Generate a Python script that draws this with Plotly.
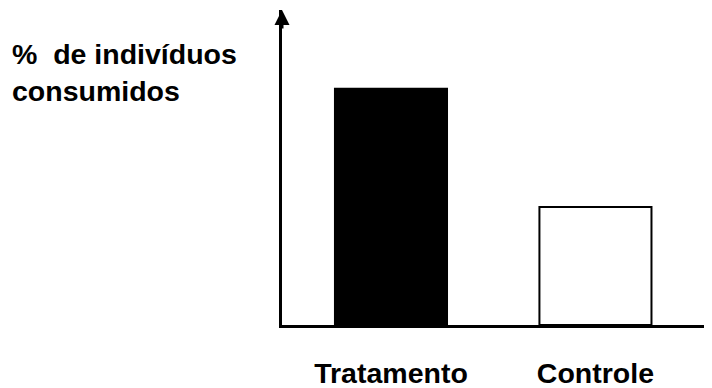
import plotly.graph_objects as go

categories = ["Tratamento", "Controle"]
values = [75, 37.5]
fill_colors = ["#000000", "#ffffff"]
y_title = "%  de indivíduos<br>consumidos"

fig = go.Figure(go.Bar(
    x=categories, y=values, width=0.548,
    marker=dict(color=fill_colors, line=dict(color="#000000", width=2)),
))

fam = "Liberation Sans, Arial, sans-serif"

fig.update_layout(
    width=704, height=380,
    margin=dict(l=274, r=0, t=2, b=63),
    paper_bgcolor="white", plot_bgcolor="white",
    showlegend=False,
    font=dict(family=fam, size=28, color="#000000"),
    xaxis=dict(range=[-0.533, 1.57], showline=True, linewidth=3, linecolor="#000000",
               showgrid=False, zeroline=False, ticks="", ticklabelstandoff=21,
               tickfont=dict(family=fam, size=28.5, color="#000000", weight="bold")),
    yaxis=dict(range=[0, 100], showline=True, linewidth=3, linecolor="#000000",
               showgrid=False, zeroline=False, showticklabels=False, ticks=""),
    annotations=[
        dict(text=y_title, xref="paper", yref="paper", x=-0.632, y=0.918,
             xanchor="left", yanchor="top", align="left", showarrow=False,
             font=dict(family=fam, size=28.5, color="#000000", weight="bold")),
        dict(text="", xref="paper", yref="paper", x=0, y=1, ax=0, ay=20,
             showarrow=True, arrowhead=2, arrowsize=1, arrowwidth=3, arrowcolor="#000000"),
    ],
)

fig.write_html("out.html")
